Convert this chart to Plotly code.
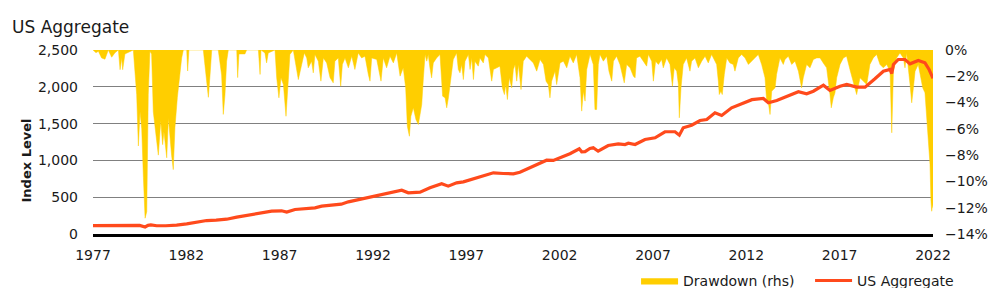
import plotly.graph_objects as go

# ---------------- data ----------------
index_years = [
    1977.00, 1977.50, 1978.00, 1978.50, 1978.98, 1979.16, 1979.50, 1979.79, 1979.95, 1980.10,
    1980.41, 1980.90, 1981.30, 1981.48, 1982.02, 1982.55, 1983.09, 1983.60, 1984.16, 1984.70,
    1985.23, 1985.77, 1986.57, 1987.10, 1987.38, 1987.82, 1988.30, 1988.89, 1989.25, 1989.96,
    1990.30, 1990.68, 1991.57, 1992.46, 1993.18, 1993.54, 1993.89, 1994.20, 1994.52, 1995.05,
    1995.68, 1996.03, 1996.48, 1996.84, 1997.37, 1997.91, 1998.45, 1998.98, 1999.52, 1999.87,
    2000.41, 2000.95, 2001.30, 2001.66, 2002.02, 2002.55, 2003.05, 2003.18, 2003.36, 2003.62,
    2003.80, 2004.06, 2004.60, 2005.14, 2005.50, 2005.68, 2006.04, 2006.57, 2007.11, 2007.64,
    2008.18, 2008.41, 2008.62, 2009.07, 2009.52, 2009.88, 2010.32, 2010.68, 2011.21, 2011.75,
    2012.30, 2012.91, 2013.18, 2013.63, 2014.34, 2014.79, 2015.23, 2015.59, 2016.13, 2016.48,
    2017.02, 2017.38, 2017.91, 2018.36, 2018.89, 2019.34, 2019.70, 2019.79, 2019.88, 2020.14,
    2020.50, 2020.77, 2021.21, 2021.57, 2021.79, 2022.00,
]
index_level = [
    115, 115, 115, 116, 118, 125, 116, 95, 118, 124,
    112, 112, 114, 120, 138, 165, 183, 188, 201, 229,
    251, 280, 310, 315, 297, 333, 340, 356, 378, 391,
    405, 437, 486, 537, 582, 595, 560, 560, 568, 627,
    682, 650, 695, 709, 750, 781, 831, 822, 818, 840,
    899, 953, 1003, 999, 1035, 1090, 1157, 1117, 1120, 1162,
    1171, 1125, 1202, 1225, 1216, 1234, 1216, 1284, 1307, 1389,
    1389, 1343, 1443, 1478, 1542, 1556, 1647, 1610, 1714, 1769,
    1825, 1841, 1783, 1814, 1886, 1932, 1905, 1940, 2022, 1950,
    2008, 2031, 1995, 1995, 2109, 2212, 2235, 2180, 2303, 2371,
    2371, 2312, 2357, 2326, 2235, 2115,
]

dd_years = [
    1977.00, 1977.16, 1977.29, 1977.46, 1977.64, 1977.82, 1978.00, 1978.18, 1978.36, 1978.45,
    1978.54, 1978.59, 1978.71, 1978.89, 1979.07, 1979.16, 1979.34, 1979.43, 1979.52, 1979.61,
    1979.70, 1979.79, 1979.88, 1979.96, 1980.05, 1980.14, 1980.23, 1980.41, 1980.50, 1980.63,
    1980.73, 1980.80, 1980.95, 1981.04, 1981.13, 1981.21, 1981.30, 1981.39, 1981.52, 1981.63,
    1981.75, 1981.84, 1982.02, 1982.07, 1982.14, 1982.91, 1983.00, 1983.18, 1983.27, 1983.36,
    1983.71, 1983.80, 1983.89, 1983.98, 1984.07, 1984.16, 1984.25, 1984.70, 1984.75, 1984.82,
    1985.14, 1985.23, 1985.59,
    1985.86, 1985.95, 1986.00, 1986.21, 1986.30, 1986.39, 1986.75, 1986.84, 1986.96, 1987.07,
    1987.20, 1987.34, 1987.43, 1987.55, 1987.73, 1987.82, 1988.00, 1988.18, 1988.32, 1988.45,
    1988.53, 1988.71, 1988.80, 1988.89, 1989.07, 1989.21, 1989.34, 1989.52, 1989.70, 1989.87,
    1989.96, 1990.14, 1990.27, 1990.36, 1990.50, 1990.68, 1990.86, 1991.03, 1991.21, 1991.39,
    1991.57, 1991.75, 1991.84, 1991.93, 1992.20, 1992.43, 1992.55, 1992.73, 1992.91, 1993.09,
    1993.27, 1993.45, 1993.62, 1993.75, 1993.84, 1993.95, 1994.03, 1994.16, 1994.30, 1994.43,
    1994.52, 1994.61, 1994.70, 1994.79, 1994.88, 1994.96, 1995.05, 1995.14, 1995.23, 1995.41,
    1995.59, 1995.73, 1995.86, 1995.95, 1996.04, 1996.13, 1996.21, 1996.30, 1996.48, 1996.57,
    1996.66, 1996.75, 1996.84, 1996.93, 1997.11, 1997.20, 1997.29, 1997.38, 1997.46, 1997.64,
    1997.73, 1997.91, 1998.00, 1998.18, 1998.36, 1998.45, 1998.63, 1998.80, 1998.93, 1999.04,
    1999.11, 1999.20, 1999.30, 1999.43, 1999.52, 1999.61, 1999.70, 1999.79, 1999.93, 2000.05,
    2000.23, 2000.41, 2000.59, 2000.77, 2000.95, 2001.13, 2001.27, 2001.39, 2001.48, 2001.57,
    2001.75, 2001.84, 2002.02, 2002.20, 2002.38, 2002.55, 2002.73, 2002.91, 2003.09, 2003.18,
    2003.27, 2003.36, 2003.45,
    2003.63, 2003.80, 2003.89, 2003.98, 2004.07, 2004.16, 2004.34, 2004.52, 2004.64, 2004.79,
    2004.88, 2005.05, 2005.23, 2005.32, 2005.46, 2005.59, 2005.77, 2005.95, 2006.04, 2006.12,
    2006.30, 2006.48, 2006.66, 2006.75, 2006.93, 2007.02, 2007.14, 2007.29, 2007.46, 2007.55,
    2007.73, 2007.91, 2008.04, 2008.14, 2008.27, 2008.36, 2008.41, 2008.50, 2008.62, 2008.80,
    2008.98, 2009.07, 2009.25, 2009.43, 2009.61, 2009.79, 2009.96, 2010.14, 2010.41, 2010.50,
    2010.55, 2010.64, 2010.71, 2010.82, 2010.95, 2011.12, 2011.30, 2011.39, 2011.57, 2011.75,
    2011.93, 2012.11, 2012.29,
    2012.46, 2012.64, 2012.82, 2013.00, 2013.09, 2013.18, 2013.27, 2013.36, 2013.54, 2013.62,
    2013.80, 2013.98, 2014.07, 2014.25, 2014.43, 2014.61, 2014.79, 2014.96, 2015.05, 2015.23,
    2015.41, 2015.59, 2015.77, 2015.95, 2016.12, 2016.30, 2016.48, 2016.55, 2016.66, 2016.75,
    2016.84, 2017.02, 2017.20, 2017.37, 2017.55, 2017.73, 2017.91, 2018.09, 2018.27, 2018.45,
    2018.62, 2018.80, 2018.98, 2019.16, 2019.34, 2019.52, 2019.70, 2019.79, 2019.88, 2020.05,
    2020.23, 2020.41, 2020.50, 2020.59, 2020.77, 2020.86, 2020.95, 2021.04, 2021.21, 2021.34,
    2021.45, 2021.57, 2021.66, 2021.75, 2021.84, 2021.89, 2021.93, 2021.98, 2022.00,
]
drawdown_pct = [
    0.00, -0.20, -0.10, -0.60, -0.70, 0.00, -0.55, -0.20, 0.00, -1.50,
    -0.60, -1.50, -0.30, -0.20, -0.10, 0.00, -3.40, -7.30, -4.70, -6.00,
    -9.70, -12.80, -12.30, -3.40, -0.10, -0.30, -4.70, -7.20, -8.00, -5.40,
    -7.20, -6.20, -8.20, -5.20, -6.90, -8.00, -9.10, -5.90, -3.60, -2.10,
    -0.60, 0.00, 0.00, -1.60, 0.00, 0.00, -1.10, -3.60, -1.90, 0.00,
    0.00, -0.85, -1.90, -4.90, -3.40, -0.85, 0.00, 0.00, -2.10, -0.30,
    -0.30, 0.00, 0.00,
    0.00, -1.86, 0.00, -0.22, -0.98, -0.22, 0.00, -2.12, -3.64, -2.12,
    -2.63, -5.04, -2.63, -0.34, 0.00, -0.85, -2.25, -1.10, -0.22, -0.60,
    -1.36, -0.85, -1.74, -0.34, -0.85, -2.37, -0.60, -0.98, -2.12, -2.50,
    -0.85, -0.60, -2.75, -1.10, -0.60, -1.36, -0.47, -1.48, -0.22, -0.60,
    -0.47, -1.86, -2.37, -0.60, -0.72, -2.37, -0.60, -1.36, -0.47, -0.98,
    -0.22, -1.99, -1.36, -2.88, -5.80, -6.56, -5.04, -4.40, -5.29, -5.67,
    -4.91, -4.15, -2.12, -0.34, -0.85, -0.34, -1.36, -2.12, -0.98, -0.60,
    -0.34, -3.51, -3.64, -4.40, -3.64, -2.63, -1.61, -0.72, -0.22, -1.48,
    -1.74, -1.10, -2.25, -0.85, -0.34, -1.48, -0.60, -2.25, -0.85, -1.23,
    -0.60, -0.98, -0.34, -0.60, -2.37, -1.48, -1.36, -1.23, -2.88, -3.39,
    -2.63, -3.77, -2.12, -2.88, -1.48, -1.10, -2.37, -1.10, -3.01, -0.85,
    -0.47, -0.72, -0.98, -1.61, -0.72, -1.10, -2.37, -2.63, -3.64, -2.37,
    -1.61, -2.63, -0.98, -0.85, -1.36, -0.47, -0.98, -0.34, -2.12, -4.65,
    -3.13, -3.89, -1.48,
    -0.34, -1.10, -4.53, -4.53, -1.10, -0.34, -0.85, -0.47, -1.61, -2.37,
    -0.85, -0.47, -1.10, -1.74, -2.50, -1.10, -1.36, -1.99, -2.12, -0.60,
    -0.47, -0.85, -1.23, -0.34, -0.85, -2.37, -0.85, -1.10, -0.72, -1.36,
    -0.60, -1.10, -2.75, -1.36, -1.61, -2.63, -5.16, -2.88, -1.10, -0.60,
    -1.61, -0.85, -0.60, -1.36, -0.85, -0.47, -0.98, -0.34, -1.10, -2.37,
    -3.39, -3.13, -3.39, -1.86, -0.60, -0.98, -1.10, -1.61, -0.60, -0.34,
    -0.60, -1.10, -0.85,
    -0.60, -0.34, -1.10, -2.12, -3.89, -4.02, -4.91, -3.13, -2.88, -1.86,
    -0.60, -1.10, -0.72, -0.47, -1.10, -0.85, -1.61, -2.88, -2.12, -1.10,
    -1.36, -0.72, -0.60, -0.60, -0.98, -1.36, -3.39, -4.40, -3.64, -3.26,
    -2.12, -1.10, -0.60, -0.47, -1.48, -2.37, -3.39, -2.12, -2.37, -2.63,
    -1.10, -0.60, -0.34, -1.10, -1.36, -1.10, -1.61, -6.30, -1.61, -0.60,
    -0.22, -0.60, -1.36, -0.22, -2.63, -4.02, -2.88, -1.61, -1.10, -2.12,
    -2.88, -3.26, -5.16, -7.19, -8.71, -11.50, -12.27, -11.76, -12.00,
]

x_tick_years = [1977, 1982, 1987, 1992, 1997, 2002, 2007, 2012, 2017, 2022]
left_ticks = [0, 500, 1000, 1500, 2000, 2500]
right_ticks = [0, -2, -4, -6, -8, -10, -12, -14]
right_tick_text = ["0%", "\u22122%", "\u22124%", "\u22126%", "\u22128%",
                   "\u221210%", "\u221212%", "\u221214%"]

# ---------------- styling ----------------
FONT = "DejaVu Sans"
YELLOW = "#FFCE00"
ORANGE = "#FF4A1C"
TXT = "#1a1a1a"

fig = go.Figure()

# drawdown on the main (right-hand) axis, index level on the overlaid left axis
fig.add_trace(go.Scatter(
    x=dd_years, y=drawdown_pct, name="Drawdown (rhs)",
    mode="lines", fill="tozeroy", fillcolor=YELLOW,
    line=dict(color=YELLOW, width=0.5), yaxis="y",
))
fig.add_trace(go.Scatter(
    x=index_years, y=index_level, name="US Aggregate",
    mode="lines", line=dict(color=ORANGE, width=3.2), yaxis="y2",
))

fig.update_layout(
    width=999, height=288,
    margin=dict(l=93, r=66, t=50, b=54, pad=0, autoexpand=False),
    paper_bgcolor="white", plot_bgcolor="white",
    font=dict(family=FONT, size=14, color=TXT),
    title=dict(text="US Aggregate", font=dict(family=FONT, size=17, color=TXT),
               xref="container", x=12 / 999, xanchor="left",
               yref="container", y=1 - 27 / 288, yanchor="middle"),
    showlegend=True,
    legend=dict(orientation="h", x=0.6465, xanchor="left", y=-0.255, yanchor="middle",
                font=dict(family=FONT, size=14, color=TXT), bgcolor="rgba(0,0,0,0)",
                traceorder="normal", itemwidth=37, entrywidth=122),
    xaxis=dict(range=[1977, 2022], tickmode="array", tickvals=x_tick_years,
               ticktext=[str(v) for v in x_tick_years],
               showgrid=False, zeroline=False, showline=True, linecolor="black",
               linewidth=3, ticks="", ticklabelstandoff=6,
               tickfont=dict(family=FONT, size=14, color=TXT)),
    yaxis=dict(range=[-14, 0], tickmode="array", tickvals=right_ticks,
               ticktext=right_tick_text,
               side="right", showgrid=False, zeroline=False,
               showline=False, ticks="", ticklabelstandoff=11,
               tickfont=dict(family=FONT, size=14, color=TXT)),
    yaxis2=dict(range=[0, 2500], tickmode="array", tickvals=left_ticks, tickformat=",",
                overlaying="y", side="left", anchor="x",
                showgrid=True, gridcolor="#808080", gridwidth=1, zeroline=False,
                showline=False, ticks="", ticklabelstandoff=14,
                tickfont=dict(family=FONT, size=14, color=TXT)),
    annotations=[dict(text="<b>Index Level</b>", textangle=-90, xref="paper", yref="paper",
                      x=(26 - 93) / 840, y=(233.5 - 160) / 184, xanchor="center",
                      yanchor="middle", showarrow=False,
                      font=dict(family=FONT, size=13, color=TXT))],
)

fig.write_html("out.html")
